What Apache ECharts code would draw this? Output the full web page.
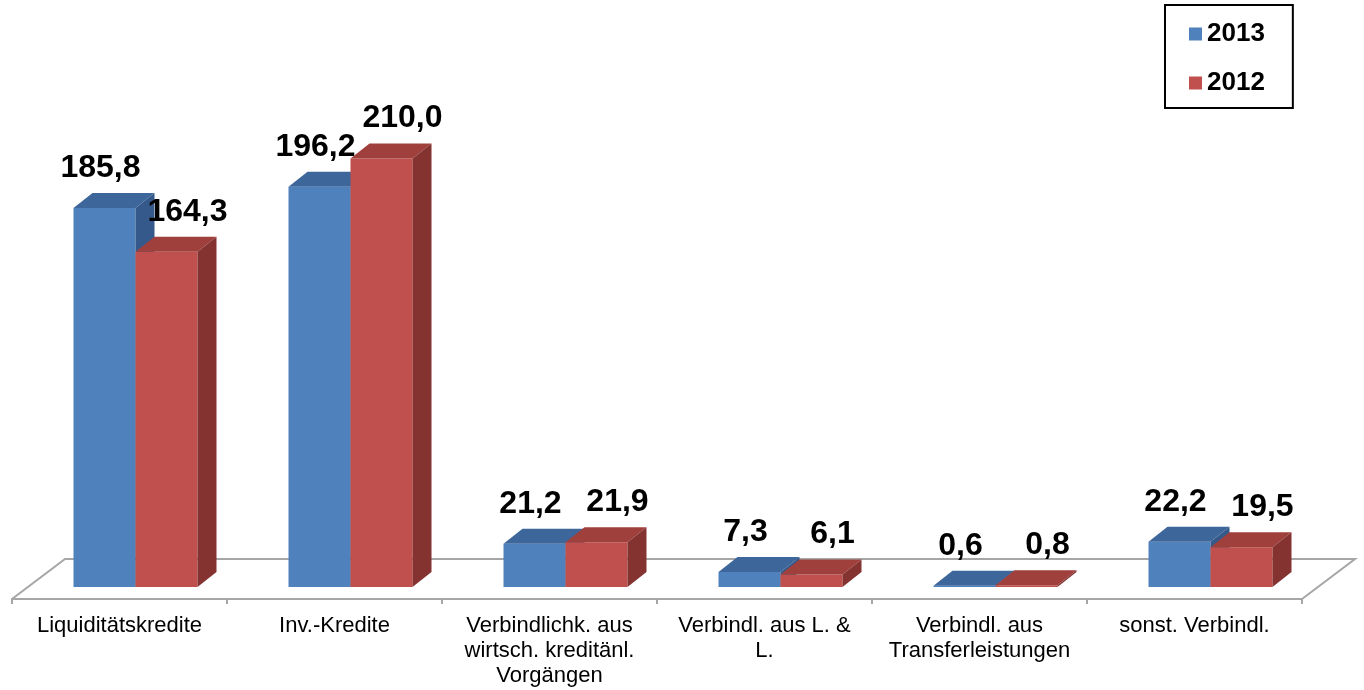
<!DOCTYPE html>
<html>
<head>
<meta charset="utf-8">
<script src="https://cdn.jsdelivr.net/npm/echarts@6/dist/echarts.min.js"></script>
<style>
  html, body { margin: 0; padding: 0; background: #ffffff; }
  #chart { width: 1364px; height: 690px; }
</style>
</head>
<body>
<div id="chart"></div>
<script>
// ---- data ----
const categories = [
  'Liquiditätskredite',
  'Inv.-Kredite',
  'Verbindlichk. aus\nwirtsch. kreditänl.\nVorgängen',
  'Verbindl. aus L. &\nL.',
  'Verbindl. aus\nTransferleistungen',
  'sonst. Verbindl.'
];
const seriesNames = ['2013', '2012'];
const values2013 = [185.8, 196.2, 21.2, 7.3, 0.6, 22.2];
const values2012 = [164.3, 210.0, 21.9, 6.1, 0.8, 19.5];

// ---- styles ----
const FONT = '"Liberation Sans", Arial, sans-serif';
const palette = [
  { front: '#4F81BD', top: '#3D669B', side: '#34598A' },
  { front: '#C0504D', top: '#A0403D', side: '#843331' }
];
const BAR_FRAC = 62 / 215;      // bar width relative to category band
const PLANE = [16, -12];        // bar front plane offset from floor front edge
const DEPTH = [19, -15];        // bar depth projection
const FLOOR = [53, -40];        // floor depth projection
const LABEL_DX = [-4, 21];      // label horizontal nudge per series
const LABEL_GAP = 25;           // label centre above back top edge

function fmt(v) { return v.toFixed(1).replace('.', ','); }

function barRenderer(s) {
  return function (params, api) {
    const cat = api.value(0), v = api.value(1);
    const base = api.coord([cat, 0]);
    const top = api.coord([cat, v]);
    const band = api.size([1, 0])[0];
    const w = band * BAR_FRAC;
    const cx = base[0] + PLANE[0];
    const x0 = s === 0 ? cx - w : cx;
    const x1 = x0 + w;
    const yb = base[1] + PLANE[1];
    const yt = top[1] + PLANE[1];
    const c = palette[s];
    return {
      type: 'group',
      children: [
        { type: 'rect', shape: { x: x0, y: yt, width: w, height: yb - yt }, style: { fill: c.front } },
        { type: 'polygon', shape: { points: [[x0, yt], [x0 + DEPTH[0], yt + DEPTH[1]], [x1 + DEPTH[0], yt + DEPTH[1]], [x1, yt]] }, style: { fill: c.top } },
        { type: 'polygon', shape: { points: [[x1, yt], [x1 + DEPTH[0], yt + DEPTH[1]], [x1 + DEPTH[0], yb + DEPTH[1]], [x1, yb]] }, style: { fill: c.side } },
        { type: 'text', z2: 100, style: {
            text: fmt(v), x: (x0 + x1) / 2 + LABEL_DX[s], y: yt + DEPTH[1] - LABEL_GAP,
            align: 'center', verticalAlign: 'middle',
            fontFamily: FONT, fontSize: 32, fontWeight: 'bold', fill: '#000000'
        } }
      ]
    };
  };
}

function floorRenderer(params, api) {
  const n = categories.length;
  const band = api.size([1, 0])[0];
  const l = api.coord([0, 0]);
  const r = api.coord([n - 1, 0]);
  const lx = l[0] - band / 2, rx = r[0] + band / 2, y = l[1];
  return {
    type: 'polyline',
    shape: { points: [[lx, y], [lx + FLOOR[0], y + FLOOR[1]], [rx + FLOOR[0], y + FLOOR[1]], [rx, y]] },
    style: { stroke: '#A6A6A6', lineWidth: 2, fill: null }
  };
}

const chart = echarts.init(document.getElementById('chart'), null, { renderer: 'canvas' });
chart.setOption({
  animation: false,
  backgroundColor: '#ffffff',
  grid: { left: 12, right: 62, top: 89, bottom: 91 },
  legend: {
    orient: 'vertical',
    left: 1165, top: 5,
    padding: [16, 28, 12, 24],
    itemGap: 23,
    itemWidth: 13, itemHeight: 13,
    borderColor: '#000000', borderWidth: 2,
    textStyle: { fontFamily: FONT, fontSize: 26, fontWeight: 'bold', color: '#000000', lineHeight: 26 },
    data: [{ name: seriesNames[0], icon: 'rect' }, { name: seriesNames[1], icon: 'rect' }]
  },
  xAxis: {
    type: 'category',
    data: categories,
    boundaryGap: true,
    axisLine: { show: true, lineStyle: { color: '#A6A6A6', width: 2 } },
    axisTick: { show: true, length: 5, lineStyle: { color: '#A6A6A6', width: 2 } },
    axisLabel: { interval: 0, fontFamily: FONT, fontSize: 22, color: '#000000', lineHeight: 25, margin: 14 },
    splitLine: { show: false }
  },
  yAxis: {
    type: 'value', min: 0, max: 250, show: false, splitLine: { show: false }
  },
  series: [
    { type: 'custom', name: '_floor', silent: true, z: 1, clip: false, renderItem: floorRenderer, data: [[0, 0]], encode: { x: 0, y: 1 } },
    { type: 'custom', name: seriesNames[0], z: 2, clip: false, itemStyle: { color: palette[0].front }, renderItem: barRenderer(0),
      data: values2013.map((v, i) => [i, v]), encode: { x: 0, y: 1 } },
    { type: 'custom', name: seriesNames[1], z: 3, clip: false, itemStyle: { color: palette[1].front }, renderItem: barRenderer(1),
      data: values2012.map((v, i) => [i, v]), encode: { x: 0, y: 1 } }
  ]
});
</script>
</body>
</html>
